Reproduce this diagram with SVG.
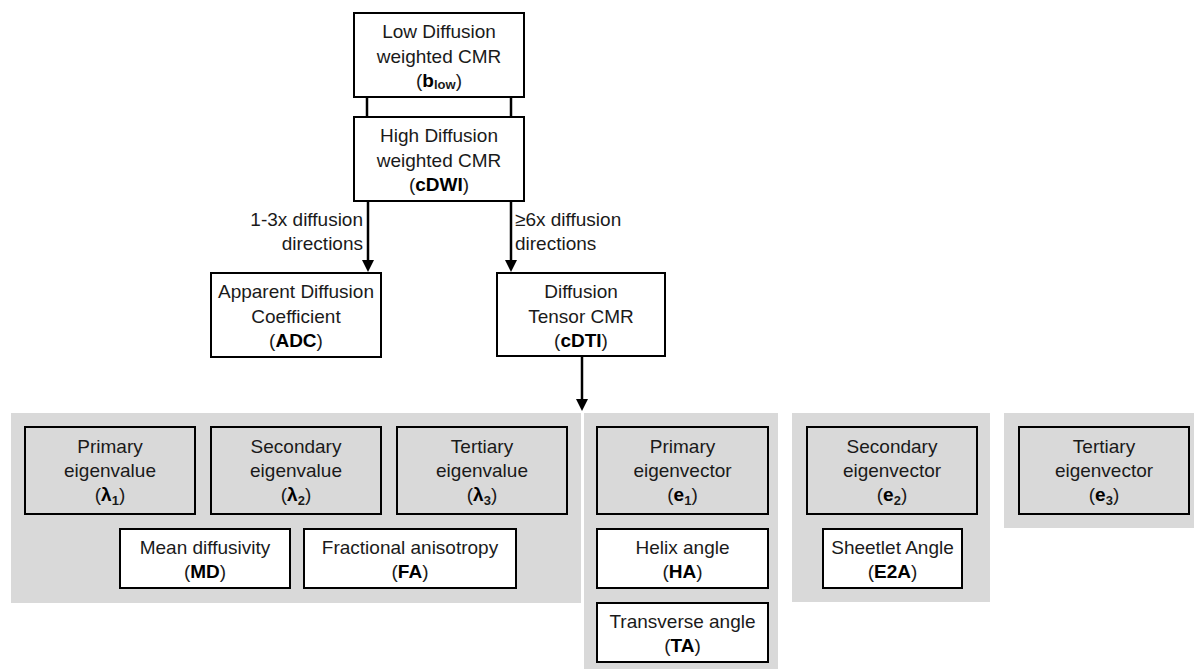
<svg xmlns="http://www.w3.org/2000/svg" width="1194" height="669" viewBox="0 0 1194 669">
<defs>
<style>
text{font-family:"Liberation Sans",Arial,Helvetica,sans-serif;font-size:19px;fill:#1a1a1a;text-anchor:middle}
.b{font-weight:bold;fill:#000}
.s{font-size:13px;font-weight:bold}
.panel{fill:#d9d9d9;stroke:none}
.wbox{fill:#fff;stroke:#000;stroke-width:2}
.gbox{fill:#d9d9d9;stroke:#000;stroke-width:2}
.conn{stroke:#000;stroke-width:2.5;fill:none}
.lbl{text-anchor:end}
.lbr{text-anchor:start}
</style>
<marker id="arr" markerUnits="userSpaceOnUse" markerWidth="12" markerHeight="12" refX="4" refY="6" orient="auto">
<path d="M0,0 L12,6 L0,12 z" fill="#000"/>
</marker>
</defs>
<rect width="1194" height="669" fill="#fff"/>

<g id="panels">
<rect class="panel" x="11" y="413" width="570" height="190"/>
<rect class="panel" x="584" y="413" width="194" height="256"/>
<rect class="panel" x="792" y="413" width="198" height="189"/>
<rect class="panel" x="1004" y="413" width="190" height="115"/>
</g>

<g id="connectors">
<line class="conn" x1="367" y1="97" x2="367" y2="117"/>
<line class="conn" x1="511" y1="97" x2="511" y2="117"/>
<line class="conn" x1="368" y1="201" x2="368" y2="264" marker-end="url(#arr)"/>
<line class="conn" x1="511" y1="201" x2="511" y2="264" marker-end="url(#arr)"/>
<line class="conn" x1="582" y1="356" x2="582" y2="403" marker-end="url(#arr)"/>
<text class="lbl" x="363" y="226">1-3x diffusion</text>
<text class="lbl" x="363" y="250">directions</text>
<text class="lbr" x="515" y="226">≥6x diffusion</text>
<text class="lbr" x="515" y="250">directions</text>
</g>

<g id="low">
<rect class="wbox" x="354" y="13" width="170" height="84"/>
<text x="439" y="38">Low Diffusion</text>
<text x="439" y="63">weighted CMR</text>
<text x="439" y="87">(<tspan class="b">b</tspan><tspan class="s" dy="2">low</tspan><tspan dy="-2">)</tspan></text>
</g>

<g id="high">
<rect class="wbox" x="354" y="117" width="170" height="84"/>
<text x="439" y="142">High Diffusion</text>
<text x="439" y="167">weighted CMR</text>
<text x="439" y="191">(<tspan class="b">cDWI</tspan>)</text>
</g>

<g id="adc">
<rect class="wbox" x="211" y="273" width="170" height="84"/>
<text x="296" y="298">Apparent Diffusion</text>
<text x="296" y="323">Coefficient</text>
<text x="296" y="347">(<tspan class="b">ADC</tspan>)</text>
</g>

<g id="cdti">
<rect class="wbox" x="497" y="273" width="168" height="83"/>
<text x="581" y="298">Diffusion</text>
<text x="581" y="323">Tensor CMR</text>
<text x="581" y="347">(<tspan class="b">cDTI</tspan>)</text>
</g>

<g id="lambda1">
<rect class="gbox" x="25" y="427" width="170" height="87"/>
<text x="110" y="453">Primary</text>
<text x="110" y="477">eigenvalue</text>
<text x="110" y="501">(<tspan class="b">λ</tspan><tspan class="s" dy="4">1</tspan><tspan dy="-4">)</tspan></text>
</g>

<g id="lambda2">
<rect class="gbox" x="211" y="427" width="170" height="87"/>
<text x="296" y="453">Secondary</text>
<text x="296" y="477">eigenvalue</text>
<text x="296" y="501">(<tspan class="b">λ</tspan><tspan class="s" dy="4">2</tspan><tspan dy="-4">)</tspan></text>
</g>

<g id="lambda3">
<rect class="gbox" x="397" y="427" width="170" height="87"/>
<text x="482" y="453">Tertiary</text>
<text x="482" y="477">eigenvalue</text>
<text x="482" y="501">(<tspan class="b">λ</tspan><tspan class="s" dy="4">3</tspan><tspan dy="-4">)</tspan></text>
</g>

<g id="md">
<rect class="wbox" x="120" y="529" width="170" height="59"/>
<text x="205" y="554">Mean diffusivity</text>
<text x="205" y="578">(<tspan class="b">MD</tspan>)</text>
</g>

<g id="fa">
<rect class="wbox" x="304" y="529" width="212" height="59"/>
<text x="410" y="554">Fractional anisotropy</text>
<text x="410" y="578">(<tspan class="b">FA</tspan>)</text>
</g>

<g id="e1">
<rect class="gbox" x="597" y="427" width="171" height="87"/>
<text x="682.5" y="453">Primary</text>
<text x="682.5" y="477">eigenvector</text>
<text x="682.5" y="501">(<tspan class="b">e</tspan><tspan class="s" dy="4">1</tspan><tspan dy="-4">)</tspan></text>
</g>

<g id="ha">
<rect class="wbox" x="597" y="529" width="171" height="59"/>
<text x="682.5" y="554">Helix angle</text>
<text x="682.5" y="578">(<tspan class="b">HA</tspan>)</text>
</g>

<g id="ta">
<rect class="wbox" x="597" y="603" width="171" height="59"/>
<text x="682.5" y="628">Transverse angle</text>
<text x="682.5" y="652">(<tspan class="b">TA</tspan>)</text>
</g>

<g id="e2">
<rect class="gbox" x="807" y="427" width="170" height="87"/>
<text x="892" y="453">Secondary</text>
<text x="892" y="477">eigenvector</text>
<text x="892" y="501">(<tspan class="b">e</tspan><tspan class="s" dy="4">2</tspan><tspan dy="-4">)</tspan></text>
</g>

<g id="e2a">
<rect class="wbox" x="823" y="529" width="139" height="59"/>
<text x="892.5" y="554">Sheetlet Angle</text>
<text x="892.5" y="578">(<tspan class="b">E2A</tspan>)</text>
</g>

<g id="e3">
<rect class="gbox" x="1019" y="427" width="170" height="87"/>
<text x="1104" y="453">Tertiary</text>
<text x="1104" y="477">eigenvector</text>
<text x="1104" y="501">(<tspan class="b">e</tspan><tspan class="s" dy="4">3</tspan><tspan dy="-4">)</tspan></text>
</g>
</svg>
